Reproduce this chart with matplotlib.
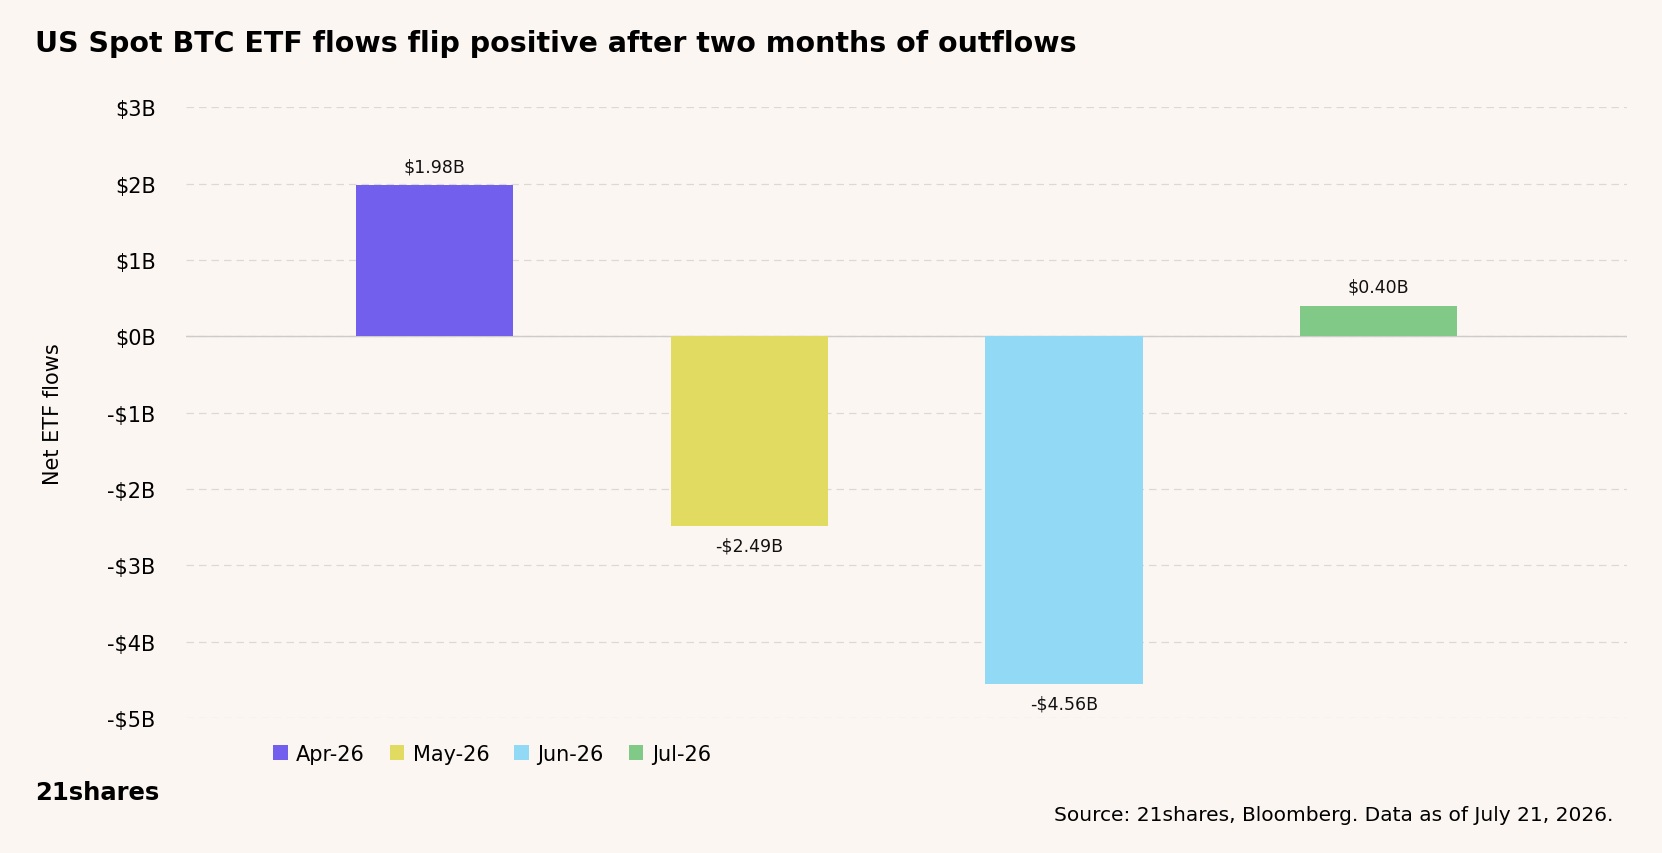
import matplotlib.pyplot as plt
import numpy as np

months = ["Apr-26", "May-26", "Jun-26", "Jul-26"]
flows = [1.98, -2.49, -4.56, 0.40]
labels = ["$1.98B", "-$2.49B", "-$4.56B", "$0.40B"]
colors = ["#735FEE", "#E2DB62", "#91D9F5", "#81C987"]
yticks = [3, 2, 1, 0, -1, -2, -3, -4, -5]

bg = "#FBF6F2"
fig = plt.figure(figsize=(16.62, 8.54), dpi=100, facecolor=bg)
ax = fig.add_axes([0.112, 0.158, 0.867, 0.715], facecolor=bg)

x = np.arange(len(months))
bars = ax.bar(x, flows, width=0.5, color=colors, label=months, zorder=3)
for xi, v, t in zip(x, flows, labels):
    off = 0.13 if v > 0 else -0.13
    ax.text(xi, v + off, t, ha="center", va="bottom" if v > 0 else "top", fontsize=12.5, color="#111111")

ax.set_xlim(-0.79, 3.79)
ax.set_ylim(-5, 3)
ax.set_yticks(yticks)
ax.set_yticklabels([f"${v}B" if v >= 0 else f"-${-v}B" for v in yticks], fontsize=15)
ax.set_xticks([])
ax.grid(axis="y", linestyle=(0, (6, 4)), color="#DDD8D3", linewidth=0.9, zorder=0)
ax.axhline(0, color="#CCCCCC", linewidth=1, zorder=2)
for s in ax.spines.values():
    s.set_visible(False)
ax.tick_params(axis="y", length=0, pad=22)
ax.set_ylabel("Net ETF flows", fontsize=15, labelpad=32)

fig.text(0.021, 0.948, "US Spot BTC ETF flows flip positive after two months of outflows",
         fontsize=20.5, fontweight="bold", va="center")
fig.legend(handles=bars, labels=months, loc="center left", bbox_to_anchor=(0.153, 0.116),
           ncol=4, frameon=False, fontsize=15, handlelength=0.7, handleheight=0.7,
           handletextpad=0.4, columnspacing=1.2)
fig.text(0.021, 0.071, "21shares", fontsize=17.5, fontweight="bold", va="center")
fig.text(0.971, 0.045, "Source: 21shares, Bloomberg. Data as of July 21, 2026.",
         fontsize=14.5, ha="right", va="center")

fig.savefig("out.png", dpi=100, facecolor=bg)
